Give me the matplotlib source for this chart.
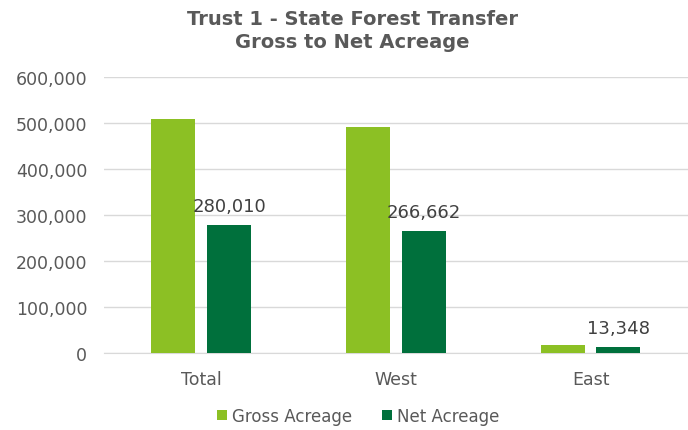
import matplotlib.pyplot as plt
import numpy as np
from matplotlib.ticker import FuncFormatter

TEXT_COLOR = "#595959"
GRID_COLOR = "#D9D9D9"
GROSS_COLOR = "#8CC024"
NET_COLOR = "#00703C"

categories = ["Total", "West", "East"]
gross_acreage = [510000, 491500, 18500]
net_acreage = [280010, 266662, 13348]
net_labels = ["280,010", "266,662", "13,348"]

fig = plt.figure(figsize=(6.88, 4.31), dpi=100)
ax = fig.add_axes([0.151, 0.178, 0.849, 0.64])

x = np.arange(len(categories))
width = 0.226
gap = 0.06
ax.bar(x - (width + gap) / 2, gross_acreage, width, color=GROSS_COLOR, label="Gross Acreage", zorder=3)
ax.bar(x + (width + gap) / 2, net_acreage, width, color=NET_COLOR, label="Net Acreage", zorder=3)

for xi, val, lab in zip(x, net_acreage, net_labels):
    ax.annotate(lab, (xi + (width + gap) / 2, val), xytext=(0, 7), textcoords="offset points",
                ha="center", va="bottom", fontsize=13, color="#404040")

ax.set_xlim(-0.5, 2.5)
ax.set_ylim(0, 600000)
ax.set_yticks(range(0, 600001, 100000))
ax.yaxis.set_major_formatter(FuncFormatter(lambda v, p: f"{int(v):,}"))
ax.set_xticks(x)
ax.set_xticklabels(categories)
ax.grid(axis="y", color=GRID_COLOR, linewidth=1, zorder=0)
ax.tick_params(axis="both", length=0, colors=TEXT_COLOR, labelsize=12.5)
ax.tick_params(axis="y", pad=12)
ax.tick_params(axis="x", pad=12)
for spine in ["top", "right", "left"]:
    ax.spines[spine].set_visible(False)
ax.spines["bottom"].set_color(GRID_COLOR)

fig.text(0.512, 0.928, "Trust 1 - State Forest Transfer\nGross to Net Acreage", ha="center", va="center",
         fontsize=14, weight="bold", color=TEXT_COLOR, linespacing=1.3)

fig.legend(loc="center", bbox_to_anchor=(0.52, 0.033), ncol=2, frameon=False, fontsize=12,
           labelcolor=TEXT_COLOR, handlelength=0.6, handleheight=0.6, handletextpad=0.3, columnspacing=1.8)

fig.savefig("out.png", dpi=100, facecolor="white")
